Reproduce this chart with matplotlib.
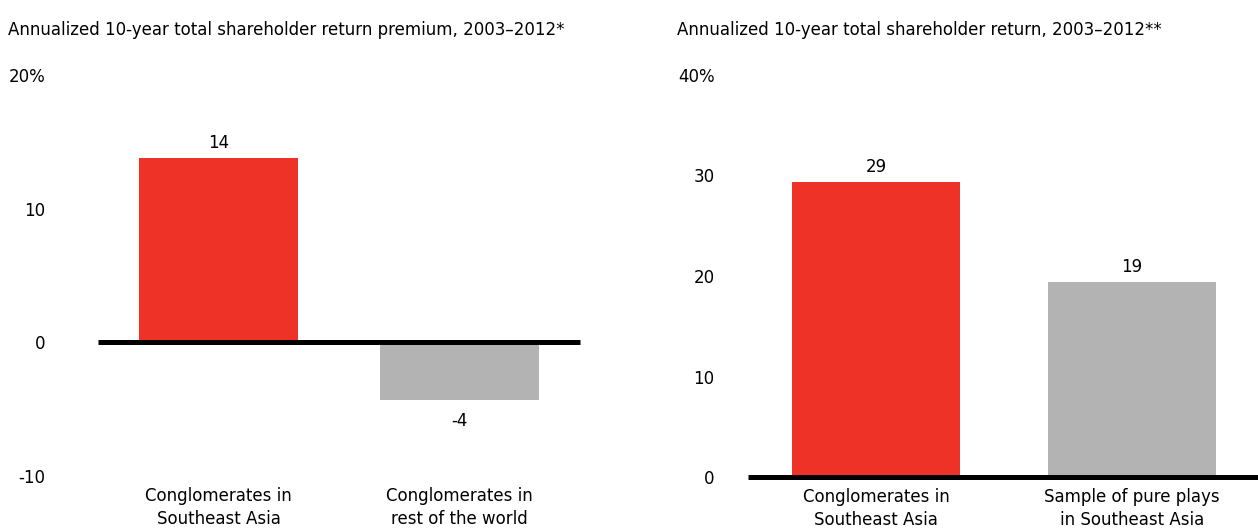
import matplotlib
matplotlib.use("Agg")
import matplotlib.pyplot as plt

# Left panel: premium vs. peers
left_title = "Annualized 10-year total shareholder return premium, 2003\u20132012*"
left_cats = ["Conglomerates in\nSoutheast Asia", "Conglomerates in\nrest of the world"]
left_vals = [13.8, -4.3]
left_labels = ["14", "-4"]
left_ticks = [-10, 0, 10, 20]
left_ticklabels = ["-10", "0", "10", "20%"]

# Right panel: absolute TSR
right_title = "Annualized 10-year total shareholder return, 2003\u20132012**"
right_cats = ["Conglomerates in\nSoutheast Asia", "Sample of pure plays\nin Southeast Asia"]
right_vals = [29.4, 19.4]
right_labels = ["29", "19"]
right_ticks = [0, 10, 20, 30, 40]
right_ticklabels = ["0", "10", "20", "30", "40%"]

RED = "#EE3227"
GREY = "#B3B3B3"

plt.rcParams["font.family"] = ["DejaVu Sans"]
plt.rcParams["font.size"] = 12

fig = plt.figure(figsize=(12.58, 5.28), dpi=100)
W, H = 1258, 528


def panel(rect, cats, vals, labels, ticks, ticklabels, ylim, ypad):
    ax = fig.add_axes(rect)
    x = range(len(cats))
    ax.bar(x, vals, width=0.66, color=[RED, GREY], zorder=2)
    ax.axhline(0, color="black", lw=3.6, zorder=3, clip_on=False, solid_capstyle="butt")
    ax.set_xlim(-0.5, 1.5)
    ax.set_ylim(*ylim)
    for s in ax.spines.values():
        s.set_visible(False)
    ax.set_yticks(ticks)
    ax.set_yticklabels(ticklabels)
    ax.tick_params(axis="y", length=0, pad=ypad, labelsize=12)
    ax.set_xticks(list(x))
    ax.set_xticklabels(cats, linespacing=1.35)
    ax.tick_params(axis="x", length=0, pad=8, labelsize=12)
    span = ylim[1] - ylim[0]
    for xi, v, lab in zip(x, vals, labels):
        if v >= 0:
            ax.text(xi, v + span * 0.015, lab, ha="center", va="bottom", fontsize=12)
        else:
            ax.text(xi, v - span * 0.03, lab, ha="center", va="top", fontsize=12)
    return ax


panel([98 / W, 1 - 476 / H, 482 / W, 401 / H], left_cats, left_vals, left_labels,
      left_ticks, left_ticklabels, (-10, 20), 38)
panel([748 / W, 1 - 477 / H, 512 / W, 402 / H], right_cats, right_vals, right_labels,
      right_ticks, right_ticklabels, (0, 40), 24)

fig.text(8 / W, 1 - 30 / H, left_title, ha="left", va="center", fontsize=12)
fig.text(677 / W, 1 - 30 / H, right_title, ha="left", va="center", fontsize=12)

fig.savefig("out.png", dpi=100)
